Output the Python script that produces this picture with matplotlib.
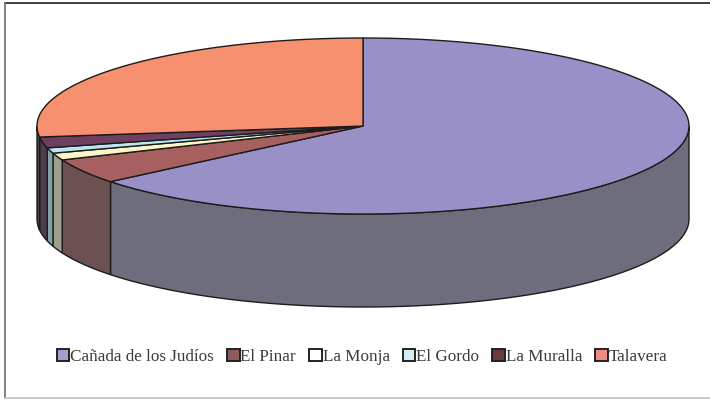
import numpy as np
import matplotlib
matplotlib.use('Agg')
import matplotlib.pyplot as plt
from matplotlib.patches import Polygon, Patch

labels = ['Cañada de los Judíos', 'El Pinar', 'La Monja', 'El Gordo', 'La Muralla', 'Talavera']
values = [64.1, 4.6, 1.3, 1.0, 2.0, 27.0]
top_colors = ['#9A90C8', '#A5605F', '#FBF6C6', '#BEE4F2', '#6F3F5F', '#F6906F']
side_colors = ['#6E6D7E', '#6B5152', '#9DA08F', '#83A0A6', '#4C3C4C', '#4A4650']
legend_colors = ['#A79CCB', '#8E5C5C', '#FFFFFF', '#D5ECF5', '#6A3B3B', '#F08A80']

# pie geometry in pixels
cx, cy = 363, 126
rx, ry = 326, 88
depth = 93


def arc(t0, t1):
    t = np.radians(np.linspace(t0, t1, 200))
    return cx + rx * np.sin(t), cy - ry * np.cos(t)


fig = plt.figure(figsize=(7.1, 4.0), dpi=100)
ax = fig.add_axes([0, 0, 1, 1])
ax.set_xlim(0, 710)
ax.set_ylim(400, 0)
ax.axis('off')

# frame, right side is missing on the scan
ax.plot([5, 710], [3, 3], color='#2e2e2e', lw=1.3)
ax.plot([5, 5], [3, 398], color='#777777', lw=1.3)
ax.plot([5, 710], [398, 398], color='#c4c4c4', lw=1.3)

angles = np.cumsum([0] + values) / sum(values) * 360

# side wall, only the front half of the ellipse shows
for i in range(len(values)):
    a0, a1 = max(angles[i], 90), min(angles[i + 1], 270)
    if a1 <= a0:
        continue
    x, y = arc(a0, a1)
    pts = np.r_[np.c_[x, y], np.c_[x[::-1], y[::-1] + depth]]
    ax.add_patch(Polygon(pts, closed=True, fc=side_colors[i], ec='#1c1c1c', lw=1.0, zorder=2))

# top face
for i in range(len(values)):
    x, y = arc(angles[i], angles[i + 1])
    pts = np.r_[[[cx, cy]], np.c_[x, y]]
    ax.add_patch(Polygon(pts, closed=True, fc=top_colors[i], ec='#1c1c1c', lw=1.0, zorder=3))

handles = [Patch(fc=c, ec='#222222', lw=1.4) for c in legend_colors]
ax.legend(handles, labels, ncol=6, loc='center', bbox_to_anchor=(362 / 710, 1 - 357 / 400),
          frameon=False, handlelength=0.75, handleheight=0.75, handletextpad=0.05,
          columnspacing=0.75, borderpad=0,
          prop={'family': 'Liberation Serif', 'size': 12.3}, labelcolor='#3a3a3a')

fig.savefig('out.png', dpi=100)
